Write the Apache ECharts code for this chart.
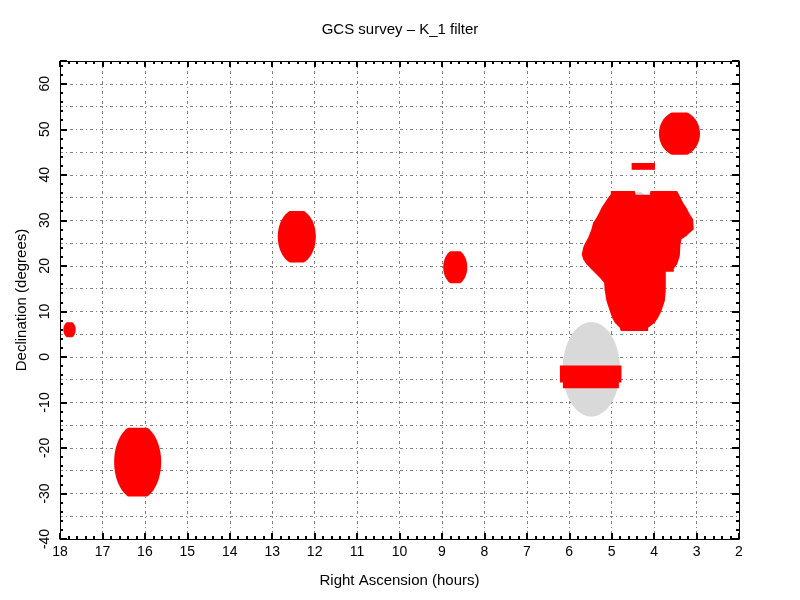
<!DOCTYPE html>
<html>
<head>
<meta charset="utf-8">
<script src="https://cdn.jsdelivr.net/npm/echarts@6/dist/echarts.min.js"></script>
<style>html,body{margin:0;padding:0;background:#fff}#c{width:800px;height:600px}</style>
</head>
<body>
<div id="c"></div>
<script>
// ---- data (RA in hours, Dec in degrees) ----
const titleText = 'GCS survey \u2013 K_1 filter';
const xName = 'Right Ascension (hours)';
const yName = 'Declination (degrees)';
const xTicks = [18,17,16,15,14,13,12,11,10,9,8,7,6,5,4,3,2];
const yTicks = [-40,-30,-20,-10,0,10,20,30,40,50,60];

// [RA centre, Dec centre, RA semi-axis, Dec semi-axis, Dec half-extent (flat cut)]
const greyEllipses = [
  [5.48, -2.72, 0.676, 10.37, 10.37],
  [4.36, 30.0, 0.30, 6.3, 6.3]
];
const redEllipses = [
  [17.775, 5.97, 0.146, 1.85, 1.65],
  [16.17, -23.1, 0.554, 8.3, 7.55],
  [12.42, 26.4, 0.448, 6.1, 5.64],
  [8.686, 19.7, 0.283, 3.85, 3.5],
  [3.403, 49.05, 0.483, 5.0, 4.65]
];
// traced polygon outlines [RA, Dec]
const bigRegion = [
  [5.021,36.45],[4.456,36.45],[4.432,35.64],[4.102,35.64],[4.086,36.45],[3.458,36.45],
  [3.395,35.35],[3.317,33.88],[3.238,32.78],[3.159,31.32],[3.081,30.22],[3.065,28.02],
  [3.159,27.29],[3.238,26.56],[3.356,25.82],[3.379,24.73],[3.395,22.16],[3.458,20.33],
  [3.537,19.38],[3.537,18.72],[3.725,18.72],[3.725,14.47],[3.749,12.27],[3.827,10.07],
  [3.906,8.61],[3.984,7.51],[4.141,6.41],[4.141,5.68],[4.786,5.68],[4.809,6.41],
  [4.927,7.51],[4.990,8.61],[5.045,10.07],[5.123,12.27],[5.163,14.47],[5.178,16.30],
  [5.280,17.40],[5.438,18.86],[5.595,20.33],[5.673,21.43],[5.705,22.53],[5.673,23.99],
  [5.634,24.87],[5.555,26.19],[5.477,28.02],[5.438,29.49],[5.359,30.59],[5.296,31.68],
  [5.241,32.78],[5.163,33.88],[5.084,34.98],[5.021,35.71]
];
const bandRegion = [
  [6.22,-1.9],[4.77,-1.9],[4.77,-5.6],[4.83,-5.6],[4.83,-6.9],[6.15,-6.9],[6.15,-5.6],[6.22,-5.6]
];
const barRegion = [[4.53,42.6],[3.98,42.6],[3.98,41.1],[4.53,41.1]];
const redPolygons = [bigRegion, bandRegion, barRegion];

// ---- rendering ----
const FONT = 'Liberation Sans';
const chart = echarts.init(document.getElementById('c'), null, {renderer:'canvas'});

function ellipseItem(color){
  return function(params, api){
    const c = api.value(0), d = api.value(1), rx = api.value(2), ry = api.value(3), h = api.value(4);
    const pts = [];
    const N = 120;
    for (let i = 0; i < N; i++) {
      const t = i / N * Math.PI * 2;
      let dec = d + ry * Math.sin(t);
      dec = Math.max(d - h, Math.min(d + h, dec));
      pts.push(api.coord([c + rx * Math.cos(t), dec]));
    }
    return {type:'polygon', shape:{points:pts}, style:{fill:color, stroke:null}};
  };
}
function polyItem(color){
  return function(params, api){
    const poly = redPolygons[api.value(0)];
    return {type:'polygon', shape:{points: poly.map(p => api.coord(p))}, style:{fill:color, stroke:null}};
  };
}

const gridDash = [3,3,1,3];
const axisCommon = {
  type:'value', min:2, max:18, interval:1, inverse:true
};
const option = {
  animation:false,
  backgroundColor:'#fff',
  title:{text:titleText, left:'center', top:17,
    textStyle:{fontFamily:FONT, fontSize:15, fontWeight:'normal', color:'#000'}},
  grid:{left:60, right:61, top:61, bottom:61, containLabel:false},
  xAxis:[
    Object.assign({}, axisCommon, {
      position:'bottom', name:xName, nameLocation:'middle', nameGap:34,
      nameTextStyle:{fontFamily:FONT, fontSize:15, color:'#000'},
      axisLine:{show:true, onZero:false, lineStyle:{color:'#000', width:1}},
      axisTick:{show:true, inside:true, length:6, lineStyle:{color:'#000', width:2}},
      minorTick:{show:true, splitNumber:5, length:3, lineStyle:{color:'#000', width:2}},
      axisLabel:{fontFamily:FONT, fontSize:14, color:'#000', margin:6},
      splitLine:{show:true, lineStyle:{color:'#808080', width:1, type:gridDash}}
    }),
    Object.assign({}, axisCommon, {
      position:'top',
      axisLine:{show:true, onZero:false, lineStyle:{color:'#000', width:1}},
      axisTick:{show:true, inside:true, length:6, lineStyle:{color:'#000', width:2}},
      minorTick:{show:true, splitNumber:5, length:3, lineStyle:{color:'#000', width:2}},
      axisLabel:{show:false}, splitLine:{show:false}
    })
  ],
  yAxis:[
    {type:'value', min:-40, max:65, interval:10, position:'left',
      name:yName, nameLocation:'middle', nameGap:31, nameRotate:90,
      nameTextStyle:{fontFamily:FONT, fontSize:15, color:'#000'},
      axisLine:{show:true, onZero:false, lineStyle:{color:'#000', width:1}},
      axisTick:{show:true, inside:true, length:7, lineStyle:{color:'#000', width:2}},
      minorTick:{show:true, splitNumber:5, length:3, lineStyle:{color:'#000', width:2}},
      axisLabel:{fontFamily:FONT, fontSize:14, color:'#000', rotate:90, margin:8, showMaxLabel:false,
        formatter: v => (yTicks.indexOf(v) >= 0 ? String(v) : '')},
      splitLine:{show:false}},
    {type:'value', min:-40, max:65, interval:10, position:'right',
      axisLine:{show:true, onZero:false, lineStyle:{color:'#000', width:1}},
      axisTick:{show:true, inside:true, length:7, lineStyle:{color:'#000', width:2}},
      minorTick:{show:true, splitNumber:5, length:3, lineStyle:{color:'#000', width:2}},
      axisLabel:{show:false}, splitLine:{show:false}},
    {type:'value', min:-40, max:65, interval:5, position:'left',
      axisLine:{show:false}, axisTick:{show:false}, axisLabel:{show:false},
      splitLine:{show:true, lineStyle:{color:'#808080', width:1, type:gridDash}}}
  ],
  series:[
    {type:'custom', xAxisIndex:0, yAxisIndex:0, clip:true, z:2,
      renderItem: ellipseItem('#d9d9d9'), data: greyEllipses},
    {type:'custom', xAxisIndex:0, yAxisIndex:0, clip:true, z:3,
      renderItem: ellipseItem('#ff0000'), data: redEllipses},
    {type:'custom', xAxisIndex:0, yAxisIndex:0, clip:true, z:3,
      renderItem: polyItem('#ff0000'), data: redPolygons.map((p, i) => [i, p[0][0], p[0][1]])}
  ]
};
chart.setOption(option);
</script>
</body>
</html>
